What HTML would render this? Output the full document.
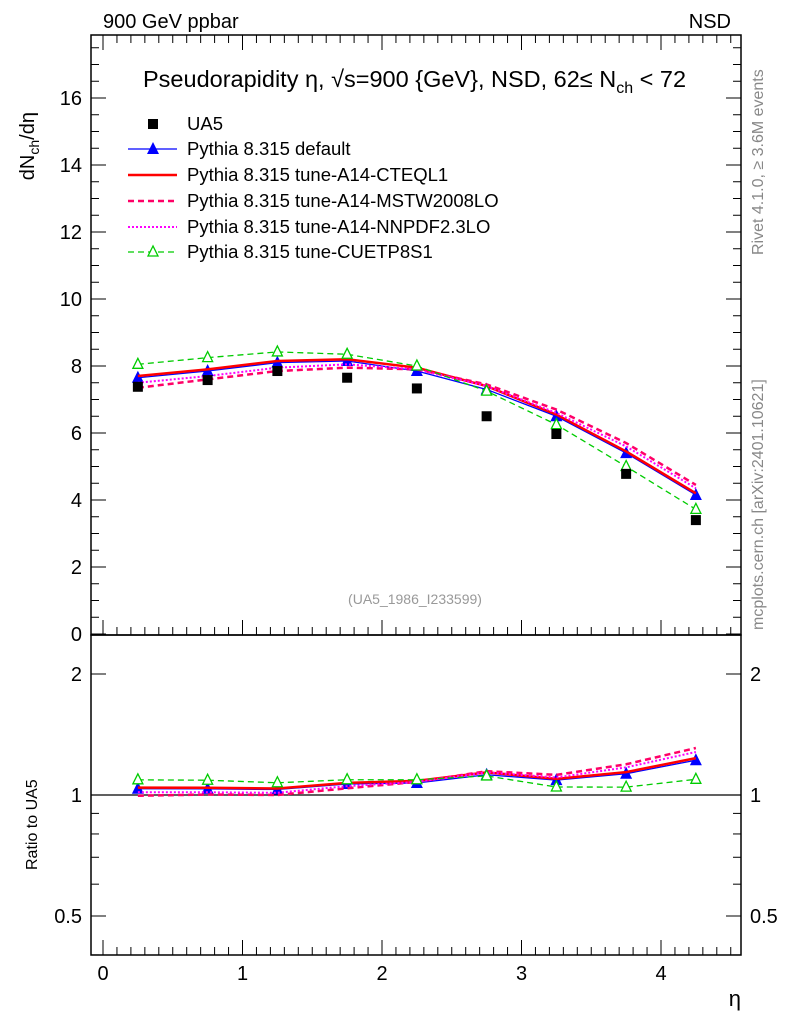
<!DOCTYPE html>
<html><head><meta charset="utf-8"><style>
body{margin:0;background:#fff;}
svg{font-family:"Liberation Sans",sans-serif;}
</style></head><body>
<svg id="c" width="786" height="1024" xmlns="http://www.w3.org/2000/svg"></svg>
<script>
const etaCenters=[0.25,0.75,1.25,1.75,2.25,2.75,3.25,3.75,4.25];
const ua5=[7.38,7.58,7.85,7.65,7.33,6.5,5.97,4.78,3.4];
const pyDefault=[7.65,7.85,8.1,8.15,7.85,7.3,6.5,5.4,4.15];
const pyCTEQL1=[7.7,7.9,8.15,8.2,7.95,7.4,6.55,5.45,4.2];
const pyMSTW=[7.35,7.6,7.85,7.95,7.9,7.45,6.7,5.7,4.45];
const pyNNPDF=[7.5,7.7,7.95,8.05,7.9,7.4,6.6,5.6,4.35];
const pyCUETP=[8.05,8.25,8.42,8.35,8.0,7.25,6.25,5.0,3.72];
const xTicks=[0,1,2,3,4];
const yTicks=[0,2,4,6,8,10,12,14,16];
const rTicks=[0.5,1,2];

const S=document.getElementById('c');const NS='http://www.w3.org/2000/svg';
function el(t,a,p){const e=document.createElementNS(NS,t);for(const k in a)e.setAttribute(k,a[k]);(p||S).appendChild(e);return e;}
const L=91,R=741,T=35,M=635,B=955;
const X=v=>103+139.5*v;
const Y=v=>634-33.5*v;
const RY=v=>795-121*Math.log2(v);

let f=el('rect',{x:L,y:T,width:R-L,height:M-T,fill:'none',stroke:'#000','stroke-width':1.5});

f=el('rect',{x:L,y:M,width:R-L,height:B-M,fill:'none',stroke:'#000','stroke-width':1.5});


for(let k=0;k<=45;k++){const vv=k/10;const maj=k%10===0;const len=maj?15:8;const x=X(vv);
 if(x<L||x>R)continue;
 for(const [y0,d] of [[M,-1],[T,1],[B,-1]]){el('line',{x1:x,x2:x,y1:y0,y2:y0+d*len,stroke:'#000'});}}
xTicks.forEach(v=>{const t=el('text',{x:X(v),y:980,'font-size':20,'text-anchor':'middle'});t.textContent=v;
 });
let t=el('text',{x:741,y:1006,'font-size':22,'text-anchor':'end'});t.textContent='η';


for(let k=0;k<=35;k++){const vv=k/2;const maj=vv%2===0;const len=maj?15:8;const y=Y(vv);
 el('line',{x1:L,x2:L+len,y1:y,y2:y,stroke:'#000'});el('line',{x1:R,x2:R-len,y1:y,y2:y,stroke:'#000'});}
yTicks.forEach(v=>{const t=el('text',{x:82,y:Y(v)+7,'font-size':20,'text-anchor':'end'});t.textContent=v;
 });
t=el('text',{x:0,y:0,'font-size':20,transform:'translate(34,112) rotate(-90)','text-anchor':'end'});
t.innerHTML='dN<tspan font-size="14" dy="5">ch</tspan><tspan dy="-5">/dη</tspan>';


[0.4,0.5,0.6,0.7,0.8,0.9,1,2].forEach(v=>{const maj=rTicks.includes(v);const len=maj?15:8;const y=RY(v);
 el('line',{x1:L,x2:L+len,y1:y,y2:y,stroke:'#000'});el('line',{x1:R,x2:R-len,y1:y,y2:y,stroke:'#000'});});
rTicks.forEach(v=>{let t=el('text',{x:82,y:RY(v)+7,'font-size':20,'text-anchor':'end'});t.textContent=v;
 
 t=el('text',{x:750,y:RY(v)+7,'font-size':20});t.textContent=v;
 });
t=el('text',{x:0,y:0,'font-size':16,transform:'translate(37,870) rotate(-90)'});t.textContent='Ratio to UA5';

el('line',{x1:L,x2:R,y1:RY(1),y2:RY(1),stroke:'#000','stroke-width':1.2});

t=el('text',{x:103,y:28,'font-size':20});t.textContent='900 GeV ppbar';
t=el('text',{x:731,y:28,'font-size':20,'text-anchor':'end'});t.textContent='NSD';
t=el('text',{x:143,y:87,'font-size':23.5});t.innerHTML='Pseudorapidity η, √s=900 {GeV}, NSD, 62≤ N<tspan font-size="16" dy="6">ch</tspan><tspan dy="-6"> &lt; 72</tspan>';

t=el('text',{x:415,y:604,'font-size':14,fill:'#999','text-anchor':'middle'});t.textContent='(UA5_1986_I233599)';

t=el('text',{x:0,y:0,'font-size':16,fill:'#888',transform:'translate(763,255) rotate(-90)'});t.textContent='Rivet 4.1.0, ≥ 3.6M events';

t=el('text',{x:0,y:0,'font-size':16,fill:'#888',transform:'translate(763,630) rotate(-90)'});t.textContent='mcplots.cern.ch [arXiv:2401.10621]';


const series=[
 {name:'Pythia 8.315 default',d:pyDefault,c:'#0000ff',w:1.3,dash:'',m:'tri-filled',key:'series-default'},
 {name:'Pythia 8.315 tune-A14-CTEQL1',d:pyCTEQL1,c:'#ff0000',w:2.5,dash:'',m:'',key:'series-cteql1'},
 {name:'Pythia 8.315 tune-A14-MSTW2008LO',d:pyMSTW,c:'#ff0066',w:2.5,dash:'6,4',m:'',key:'series-mstw2008lo'},
 {name:'Pythia 8.315 tune-A14-NNPDF2.3LO',d:pyNNPDF,c:'#ff00ff',w:2,dash:'2,2',m:'',key:'series-nnpdf23lo'},
 {name:'Pythia 8.315 tune-CUETP8S1',d:pyCUETP,c:'#00cc00',w:1.3,dash:'6,4',m:'tri-open',key:'series-cuetp8s1'}];
function marker(type,x,y,c,g){if(type==='tri-filled')return el('polygon',{points:`${x},${y-7} ${x-6},${y+5} ${x+6},${y+5}`,fill:c},g);
 if(type==='tri-open')return el('polygon',{points:`${x},${y-6} ${x-5},${y+4} ${x+5},${y+4}`,fill:'#fff',stroke:c,'stroke-width':1.3},g);}
series.forEach(s=>{
 const g=el('g',{});
 const pts=s.d.map((v,i)=>X(etaCenters[i])+','+Y(v)).join(' ');
 el('polyline',{points:pts,fill:'none',stroke:s.c,'stroke-width':s.w,'stroke-dasharray':s.dash},g);
 const rp=s.d.map((v,i)=>X(etaCenters[i])+','+RY(v/ua5[i])).join(' ');
 el('polyline',{points:rp,fill:'none',stroke:s.c,'stroke-width':s.w,'stroke-dasharray':s.dash},g);
 if(s.m){s.d.forEach((v,i)=>{marker(s.m,X(etaCenters[i]),Y(v),s.c,g);marker(s.m,X(etaCenters[i]),RY(v/ua5[i]),s.c,g);});}
});
const gd=el('g',{});
ua5.forEach((v,i)=>{el('rect',{x:X(etaCenters[i])-5,y:Y(v)-5,width:10,height:10,fill:'#000'},gd);});

const lg=el('g',{});
const ly=[124,149,175,201,227,252];
el('rect',{x:148,y:ly[0]-5,width:10,height:10,fill:'#000'},lg);
t=el('text',{x:187,y:ly[0]+6,'font-size':18.5},lg);t.textContent='UA5';

series.forEach((s,i)=>{const y=ly[i+1];
 el('line',{x1:128,x2:177,y1:y,y2:y,stroke:s.c,'stroke-width':s.w,'stroke-dasharray':s.dash},lg);
 if(s.m)marker(s.m,153,y,s.c,lg);
 const t=el('text',{x:187,y:y+6,'font-size':18.5},lg);t.textContent=s.name;
 });
</script>
</body></html>
